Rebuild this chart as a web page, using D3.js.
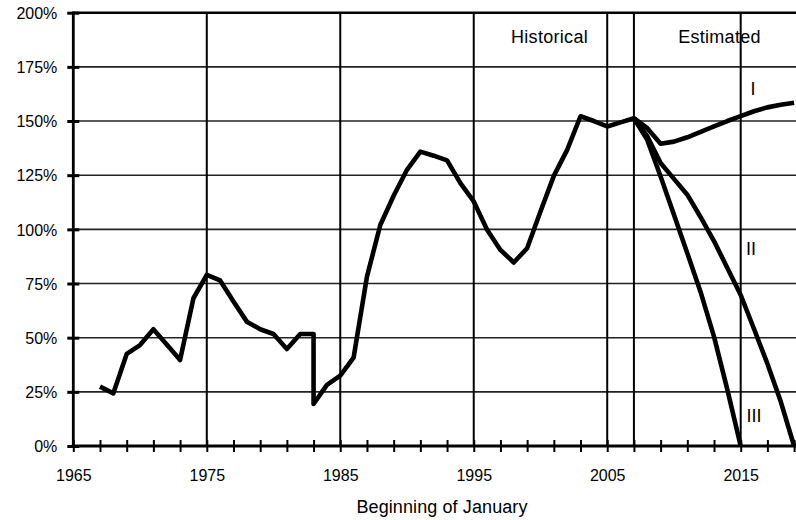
<!DOCTYPE html>
<html>
<head>
<meta charset="utf-8">
<script src="https://cdn.jsdelivr.net/npm/d3@7/dist/d3.min.js"></script>
<style>
  html, body { margin: 0; padding: 0; background: #fff; }
  svg { display: block; font-family: "Liberation Sans", Arial, sans-serif; }
</style>
</head>
<body>
<svg id="chart" width="796" height="520"></svg>
<script>
// ---- Data ----
const histYears = [1967, 1968, 1969, 1970, 1971, 1972, 1973, 1974, 1975, 1976, 1977, 1978, 1979, 1980,
  1981, 1982, 1983, 1983, 1984, 1985, 1986, 1987, 1988, 1989, 1990, 1991, 1992, 1993, 1994, 1995,
  1996, 1997, 1998, 1999, 2000, 2001, 2002, 2003, 2004, 2005, 2006, 2007];
const histValues = [27.4, 24.3, 42.5, 46.6, 53.9, 46.8, 39.7, 68.2, 79, 76.4, 66.7, 57.4, 53.9, 51.7,
  44.8, 51.7, 51.7, 19.4, 28.2, 32.5, 40.8, 78.2, 102, 115.5, 127.5, 135.9, 134, 131.8, 121.3, 112.9,
  99.8, 90.5, 84.7, 91.3, 108.2, 124.7, 136.7, 152.2, 150, 147.5, 149.4, 151.3];

const estYears = [2007, 2008, 2009, 2010, 2011, 2012, 2013, 2014, 2015, 2016, 2017, 2018, 2019];
const scenarioI = [151.3, 146.7, 139.5, 140.5, 142.5, 145, 147.5, 150, 152.3, 154.5, 156.3, 157.5, 158.4];
const scenarioII = [151.3, 143, 130.6, 123.3, 116, 105.6, 94.6, 82.2, 69.7, 54, 38, 20.5, 0];
const scenarioIIIYears = [2007, 2008, 2009, 2010, 2011, 2012, 2013, 2014, 2015];
const scenarioIII = [151.3, 141.3, 124.4, 106.7, 89, 71, 50.5, 26, 0];

const yTicks = [0, 25, 50, 75, 100, 125, 150, 175, 200];
const xTickYears = d3.range(1965, 2020, 2);
const xLabelYears = [1965, 1975, 1985, 1995, 2005, 2015];
const xGridYears = [1975, 1985, 1995, 2005, 2007, 2015];
const periodLabels = ["Historical", "Estimated"];
const scenarioLabels = ["I", "II", "III"];
const xTitle = "Beginning of January";

// ---- Layout ----
const mLeft = 73.3, mRight = 796, mTop = 12.7, mBottom = 446;
const svg = d3.select("#chart");

const x = d3.scaleLinear().domain([1965, 2015]).range([mLeft, 740.7]);
const y = d3.scaleLinear().domain([0, 200]).range([mBottom, mTop]);

// horizontal gridlines
svg.append("g").selectAll("line").data(yTicks.filter(d => d > 0 && d < 200)).join("line")
  .attr("x1", mLeft).attr("x2", mRight)
  .attr("y1", d => y(d)).attr("y2", d => y(d))
  .attr("stroke", "#222").attr("stroke-width", 1.6);

// vertical gridlines
svg.append("g").selectAll("line").data(xGridYears).join("line")
  .attr("x1", d => x(d)).attr("x2", d => x(d))
  .attr("y1", mTop).attr("y2", mBottom)
  .attr("stroke", "#000").attr("stroke-width", 2);

// top border
svg.append("line").attr("x1", mLeft).attr("x2", mRight).attr("y1", mTop).attr("y2", mTop)
  .attr("stroke", "#000").attr("stroke-width", 2.5);

// data lines
const line = d3.line().x(d => x(d[0])).y(d => y(d[1]));
const series = [
  d3.zip(histYears, histValues),
  d3.zip(estYears, scenarioI),
  d3.zip(estYears, scenarioII),
  d3.zip(scenarioIIIYears, scenarioIII)
];
svg.append("g").selectAll("path").data(series).join("path")
  .attr("d", line)
  .attr("fill", "none").attr("stroke", "#000").attr("stroke-width", 4.6)
  .attr("stroke-linejoin", "round").attr("stroke-linecap", "butt");

// x axis
const xAxis = d3.axisBottom(x).tickValues(xTickYears).tickSize(6)
  .tickFormat(d => xLabelYears.includes(d) ? String(d) : "");
const gx = svg.append("g").attr("transform", `translate(0,${mBottom})`).call(xAxis);
gx.select(".domain").remove();
gx.selectAll(".tick line").attr("y1", -6).attr("y2", 6).attr("stroke", "#000").attr("stroke-width", 2);
gx.selectAll(".tick text").attr("y", 35).attr("dy", null)
  .attr("font-size", 16).attr("fill", "#000").attr("font-family", "Liberation Sans, Arial, sans-serif");
svg.append("line").attr("x1", mLeft - 1.5).attr("x2", mRight).attr("y1", mBottom).attr("y2", mBottom)
  .attr("stroke", "#000").attr("stroke-width", 3);

// y axis
const yAxis = d3.axisLeft(y).tickValues(yTicks).tickSize(6).tickFormat(d => d + "%");
const gy = svg.append("g").attr("transform", `translate(${mLeft},0)`).call(yAxis);
gy.select(".domain").remove();
gy.selectAll(".tick line").attr("x1", -6).attr("x2", 6).attr("stroke", "#000").attr("stroke-width", 3);
gy.selectAll(".tick text").attr("x", -16).attr("dy", "0.36em")
  .attr("font-size", 16).attr("fill", "#000").attr("font-family", "Liberation Sans, Arial, sans-serif");
svg.append("line").attr("x1", mLeft).attr("x2", mLeft).attr("y1", mTop - 1.2).attr("y2", mBottom + 1.5)
  .attr("stroke", "#000").attr("stroke-width", 2.8);

// period labels
const periodPos = [[549.5, 43], [719.5, 43]];
svg.append("g").selectAll("text").data(periodLabels).join("text")
  .attr("x", (d, i) => periodPos[i][0]).attr("y", (d, i) => periodPos[i][1])
  .attr("text-anchor", "middle").attr("font-size", 18).attr("letter-spacing", 0.3)
  .text(d => d);

// scenario labels
const scenPos = [[750.5, 95], [746, 255], [746.5, 422]];
svg.append("g").selectAll("text").data(scenarioLabels).join("text")
  .attr("x", (d, i) => scenPos[i][0]).attr("y", (d, i) => scenPos[i][1])
  .attr("font-size", 18)
  .text(d => d);

// x title
svg.append("text").attr("x", 442).attr("y", 513).attr("text-anchor", "middle")
  .attr("font-size", 18).attr("letter-spacing", 0.1).text(xTitle);
</script>
</body>
</html>
